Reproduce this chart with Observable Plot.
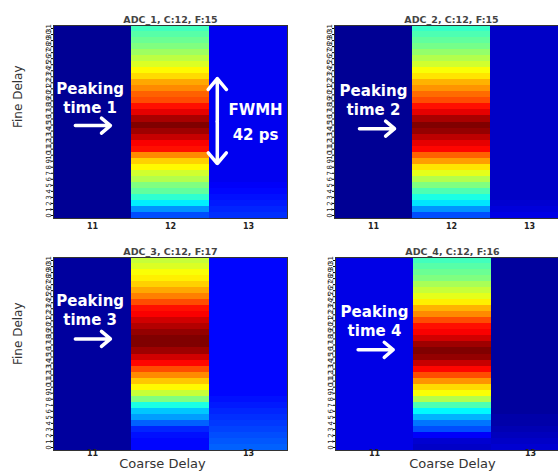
<!DOCTYPE html>
<html><head><meta charset="utf-8">
<script src="https://cdn.jsdelivr.net/npm/d3@7"></script>
<script src="https://cdn.jsdelivr.net/npm/@observablehq/plot@0.6"></script>
<style>
body{margin:0;background:#fff;}
#wrap{position:relative;width:558px;height:474px;overflow:hidden;background:#fff;font-family:"DejaVu Sans",sans-serif;}
.panel{position:absolute;width:307px;}
.panel svg{overflow:visible;max-width:none !important;}
</style></head><body><div id="wrap"></div>
<script>
// ---- data ----
const coarse = [11, 12, 13];
const fine = [0,1,2,3,4,5,6,7,8,9,10,11,12,13,14,15,16,17,18,19,20,21,22,23,24,25,26,27,28,29,30,31];
const titles = ["ADC_1, C:12, F:15", "ADC_2, C:12, F:15", "ADC_3, C:12, F:17", "ADC_4, C:12, F:16"];
const peakLabels = ["Peaking\ntime 1", "Peaking\ntime 2", "Peaking\ntime 3", "Peaking\ntime 4"];
const xTicksTop = [11, 12, 13];
const xTicksBottom = [11, 13];

// normalized counts, index = fine delay 0..31
const adc1_c11 = [0.02,0.02,0.02,0.02,0.02,0.02,0.02,0.02,0.02,0.02,0.02,0.02,0.02,0.02,0.02,0.02,0.02,0.02,0.02,0.02,0.02,0.02,0.02,0.02,0.02,0.02,0.02,0.02,0.02,0.02,0.02,0.02];
const adc1_c12 = [0.2,0.27,0.36,0.42,0.47,0.5,0.55,0.58,0.63,0.67,0.74,0.86,0.88,0.93,0.97,1.0,0.96,0.9,0.86,0.8,0.78,0.74,0.71,0.66,0.63,0.59,0.56,0.53,0.5,0.48,0.46,0.44];
const adc1_c13 = [0.17,0.16,0.15,0.14,0.13,0.12,0.11,0.11,0.11,0.11,0.11,0.11,0.11,0.11,0.11,0.11,0.11,0.11,0.11,0.11,0.11,0.11,0.11,0.11,0.11,0.11,0.11,0.11,0.11,0.11,0.11,0.11];

const adc2_c11 = [0.02,0.02,0.02,0.02,0.02,0.02,0.02,0.02,0.02,0.02,0.02,0.02,0.02,0.02,0.02,0.02,0.02,0.02,0.02,0.02,0.02,0.02,0.02,0.02,0.02,0.02,0.02,0.02,0.02,0.02,0.02,0.02];
const adc2_c12 = [0.2,0.27,0.35,0.4,0.45,0.5,0.55,0.6,0.65,0.72,0.78,0.87,0.9,0.94,0.98,1.0,0.96,0.9,0.86,0.8,0.77,0.73,0.7,0.65,0.62,0.58,0.55,0.52,0.49,0.47,0.45,0.43];
const adc2_c13 = [0.1,0.09,0.08,0.07,0.07,0.07,0.07,0.07,0.07,0.07,0.07,0.07,0.07,0.07,0.07,0.07,0.07,0.07,0.07,0.07,0.07,0.07,0.07,0.07,0.07,0.07,0.07,0.07,0.07,0.07,0.07,0.07];

const adc3_c11 = [0.03,0.03,0.03,0.03,0.03,0.03,0.03,0.03,0.03,0.03,0.03,0.03,0.03,0.03,0.03,0.03,0.03,0.03,0.03,0.03,0.03,0.03,0.03,0.03,0.03,0.03,0.03,0.03,0.03,0.03,0.03,0.03];
const adc3_c12 = [0.13,0.13,0.14,0.16,0.22,0.28,0.32,0.4,0.5,0.57,0.63,0.68,0.74,0.8,0.87,0.92,0.97,1.0,1.0,0.98,0.95,0.92,0.88,0.86,0.8,0.75,0.71,0.67,0.64,0.62,0.59,0.57];
const adc3_c13 = [0.22,0.21,0.2,0.19,0.18,0.17,0.16,0.15,0.14,0.13,0.13,0.13,0.13,0.13,0.13,0.13,0.13,0.13,0.13,0.13,0.13,0.13,0.13,0.13,0.13,0.13,0.13,0.13,0.13,0.13,0.13,0.13];

const adc4_c11 = [0.1,0.1,0.1,0.1,0.1,0.1,0.1,0.1,0.1,0.1,0.1,0.1,0.1,0.1,0.1,0.1,0.1,0.1,0.1,0.1,0.1,0.1,0.1,0.1,0.1,0.1,0.1,0.1,0.1,0.1,0.1,0.1];
const adc4_c12 = [0.07,0.08,0.12,0.2,0.24,0.3,0.37,0.45,0.55,0.62,0.66,0.73,0.8,0.87,0.93,0.98,1.0,0.97,0.92,0.88,0.86,0.8,0.74,0.7,0.64,0.6,0.57,0.54,0.5,0.48,0.46,0.44];
const adc4_c13 = [0.08,0.07,0.06,0.05,0.04,0.04,0.03,0.03,0.03,0.03,0.03,0.03,0.03,0.03,0.03,0.03,0.03,0.03,0.03,0.03,0.03,0.03,0.03,0.03,0.03,0.03,0.03,0.03,0.03,0.03,0.03,0.03];

// jet colormap
const jetStops = [0, 0.125, 0.375, 0.625, 0.875, 1];
const jetColors = ["#000080", "#0000ff", "#00ffff", "#ffff00", "#ff0000", "#800000"];

const panels = [
  {cols: [adc1_c11, adc1_c12, adc1_c13], left: 0, top: 0, xticks: xTicksTop, tickPad: 5, yLabel: true, yLabelDy: 6, xLabel: false,
   peak: {x: 10.97, y: 19.6}, arrow: {x1: 10.78, x2: 11.23, y: 14.9}, fwhm: true},
  {cols: [adc2_c11, adc2_c12, adc2_c13], left: 281, top: 0, xticks: xTicksTop, tickPad: 5, yLabel: false, xLabel: false,
   peak: {x: 11.0, y: 19.2}, arrow: {x1: 10.82, x2: 11.27, y: 14.4}, fwhm: false},
  {cols: [adc3_c11, adc3_c12, adc3_c13], left: 0, top: 232, xticks: xTicksBottom, tickPad: 0, yLabel: true, yLabelDy: 11, xLabel: true, xLabelDx: -8,
   peak: {x: 10.97, y: 22.9}, arrow: {x1: 10.78, x2: 11.23, y: 18.0}, fwhm: false},
  {cols: [adc4_c11, adc4_c12, adc4_c13], left: 282, top: 232, xticks: xTicksBottom, tickPad: 0, yLabel: false, xLabel: true, xLabelDx: 0,
   peak: {x: 11.0, y: 21.0}, arrow: {x1: 10.79, x2: 11.24, y: 16.2}, fwhm: false}
];

const FONT = "DejaVu Sans";
const wrap = document.getElementById("wrap");

panels.forEach((p, k) => {
  const data = [];
  p.cols.forEach((arr, i) => arr.forEach((v, j) => data.push({c: coarse[i], f: fine[j], v})));
  const marks = [
    Plot.rect(data, {x1: d => d.c - 0.5, x2: d => d.c + 0.5, y1: d => d.f - 0.5, y2: d => d.f + 0.5, fill: "v", shapeRendering: "crispEdges"}),
    Plot.frame({stroke: "#333", strokeWidth: 1}),
    Plot.axisX(p.xticks, {tickSize: 0, tickPadding: p.tickPad, fontSize: 8, fontWeight: "bold", fill: "#222", label: null, tickFormat: d => String(d)}),
    Plot.axisY(fine, {tickSize: 2, tickPadding: 1, tickRotate: -90, fontSize: 7, fill: "#222", label: null, tickFormat: d => String(d)}),
    Plot.text([titles[k]], {frameAnchor: "top", dy: -9, fontSize: 9.5, fontWeight: "bold", fill: "#444", fontFamily: FONT}),
    Plot.text([peakLabels[k]], {x: () => p.peak.x, y: () => p.peak.y, fill: "white", fontSize: 15, fontWeight: "bold", lineHeight: 1.25, fontFamily: FONT}),
    Plot.arrow([p.arrow], {x1: "x1", x2: "x2", y1: "y", y2: "y", stroke: "white", strokeWidth: 3.5, headLength: 10, headAngle: 80})
  ];
  if (p.yLabel) marks.push(Plot.text(["Fine Delay"], {frameAnchor: "left", dx: -35, dy: p.yLabelDy, rotate: -90, fontSize: 12, fill: "#333", fontFamily: FONT}));
  if (p.xLabel) marks.push(Plot.text(["Coarse Delay"], {frameAnchor: "bottom", dx: p.xLabelDx, dy: 17, fontSize: 13, fill: "#333", fontFamily: FONT}));
  if (p.fwhm) {
    const fw = [{x: 12.6, y1: 15.6, y2: 22.7}, {x: 12.6, y1: 15.6, y2: 8.6}];
    marks.push(Plot.arrow(fw, {x1: "x", x2: "x", y1: "y1", y2: "y2", stroke: "white", strokeWidth: 3.5, headLength: 10, headAngle: 80}));
    marks.push(Plot.text([{x: 13.09, y: 17.4, t: "FWMH"}, {x: 13.09, y: 13.3, t: "42 ps"}], {x: "x", y: "y", text: "t", fill: "white", fontSize: 15, fontWeight: "bold", fontFamily: FONT}));
  }
  const svg = Plot.plot({
    width: 53 + 234 + 20,
    height: 25 + 193 + 30,
    marginLeft: 53, marginRight: 20, marginTop: 25, marginBottom: 30,
    style: {fontFamily: FONT, background: "transparent", maxWidth: "none"},
    x: {domain: [10.5, 13.5]},
    y: {domain: [-0.5, 31.5]},
    color: {type: "linear", domain: jetStops, range: jetColors, interpolate: "rgb", clamp: true},
    marks
  });
  const div = document.createElement("div");
  div.className = "panel";
  div.style.left = p.left + "px";
  div.style.top = p.top + "px";
  div.appendChild(svg);
  wrap.appendChild(div);
});
</script></body></html>
